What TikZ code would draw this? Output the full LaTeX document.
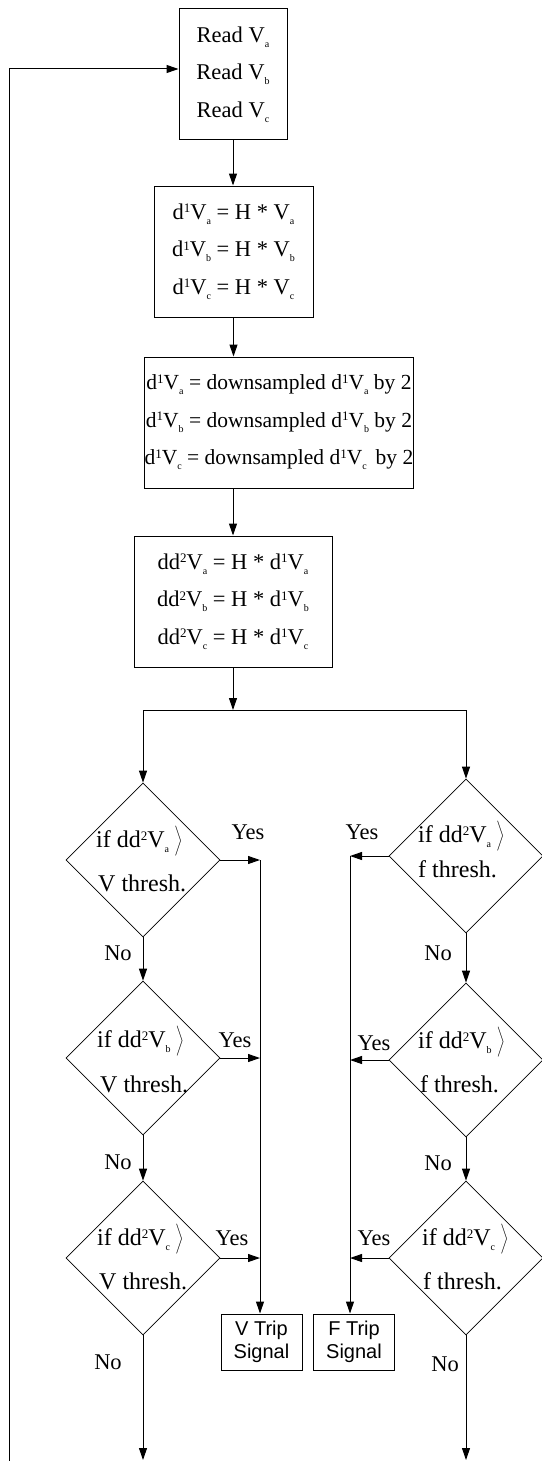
\documentclass[tikz,border=0pt]{standalone}
\usepackage{fontspec}
\setmainfont{Liberation Serif}
\setsansfont{Liberation Sans}
\usetikzlibrary{arrows.meta,shapes.geometric,calc}
\newcommand\sbs[1]{\raisebox{-5pt}{\fontsize{10}{10}\selectfont #1}}
\newcommand\sps[1]{\raisebox{6.5pt}{\fontsize{13}{13}\selectfont #1}}
\newcommand\gtb{\,$\left.\vcenter to 38pt{}\right\rangle$}
\begin{document}
\begin{tikzpicture}[x=1pt,y=-1pt,
  box/.style={draw,line width=1pt,inner sep=0pt,align=center,font=\fontsize{22.5}{37.5}\selectfont},
  dia/.style={draw,diamond,aspect=1,line width=0.7pt,minimum width=154pt,minimum height=154pt,inner sep=0pt},
  arr/.style={line width=1pt,-{Triangle[length=12pt,width=8pt]}},
  lab/.style={font=\fontsize{22.5}{26}\selectfont,inner sep=0pt},
  dtx/.style={font=\fontsize{24}{28}\selectfont,inner sep=0pt,anchor=base west},
  trip/.style={draw,line width=1pt,font=\sffamily\fontsize{20}{23}\selectfont,align=center,inner sep=0pt,minimum width=81pt,minimum height=56pt}]
\useasboundingbox (0,0) rectangle (541,1461);

% process boxes
\node[box,minimum width=108pt,minimum height=131pt] (read) at (233,74.5)
  {Read V\sbs{a}\\Read V\sbs{b}\\Read V\sbs{c}};
\node[box,minimum width=159pt,minimum height=131pt] (conv) at (233.5,251.5)
  {d\sps{1}V\sbs{a} = H * V\sbs{a}\\d\sps{1}V\sbs{b} = H * V\sbs{b}\\d\sps{1}V\sbs{c} = H * V\sbs{c}};
\node[box,minimum width=268pt,minimum height=131pt,font=\fontsize{21.5}{37.5}\selectfont] (down) at (279,422.5)
  {d\sps{1}V\sbs{a} = downsampled d\sps{1}V\sbs{a} by 2\\d\sps{1}V\sbs{b} = downsampled d\sps{1}V\sbs{b} by 2\\d\sps{1}V\sbs{c} = downsampled d\sps{1}V\sbs{c}\, by 2};
\node[box,minimum width=198pt,minimum height=131pt] (dd) at (233,601.5)
  {dd\sps{2}V\sbs{a} = H * d\sps{1}V\sbs{a}\\dd\sps{2}V\sbs{b} = H * d\sps{1}V\sbs{b}\\dd\sps{2}V\sbs{c} = H * d\sps{1}V\sbs{c}};

% decision diamonds
\node[dia] (d1) at (143,860) {};
\node[dia] (d2) at (143,1058) {};
\node[dia] (d3) at (143,1258) {};
\node[dia] (e1) at (466,856) {};
\node[dia] (e2) at (466,1060) {};
\node[dia] (e3) at (466,1258) {};

\node[dtx] (d1a) at (96,847) {if dd\sps{2}V\sbs{a}\gtb};
\node[dtx] (d1b) at (98,891) {V thresh.};
\node[dtx] (d2a) at (97,1047) {if dd\sps{2}V\sbs{b}\gtb};
\node[dtx] (d2b) at (100,1092) {V thresh.};
\node[dtx] (d3a) at (97,1245) {if dd\sps{2}V\sbs{c}\gtb};
\node[dtx] (d3b) at (99,1289) {V thresh.};
\node[dtx] (e1a) at (418,842) {if dd\sps{2}V\sbs{a}\gtb};
\node[dtx] (e1b) at (418,877) {f thresh.};
\node[dtx] (e2a) at (418,1048) {if dd\sps{2}V\sbs{b}\gtb};
\node[dtx] (e2b) at (420,1092) {f thresh.};
\node[dtx] (e3a) at (422,1245) {if dd\sps{2}V\sbs{c}\gtb};
\node[dtx] (e3b) at (423,1289) {f thresh.};

% trip boxes
\node[trip] (vtrip) at (261.5,1342) {V Trip\\Signal};
\node[trip] (ftrip) at (354,1342) {F Trip\\Signal};

% coordinates
\coordinate (split) at (233,710);
\coordinate (vl) at (260,0);
\coordinate (fl) at (350,0);
\coordinate (lend) at (143,1460);
\coordinate (rend) at (466,1460);
\coordinate (loop) at (9,1461);

% main chain
\draw[arr] (read.south) -- (read.south |- conv.north);
\draw[arr] (conv.south) -- (conv.south |- down.north);
\draw[arr] (dd.north |- down.south) -- (dd.north);
\draw[arr] (dd.south) -- (split);
\draw[arr] (split) -| (d1.north);
\draw[arr] (split) -| (e1.north);

% No branches
\draw[arr] (d1.south) -- (d2.north);
\draw[arr] (d2.south) -- (d3.north);
\draw[arr] (d3.south) -- (lend);
\draw[arr] (e1.south) -- (e2.north);
\draw[arr] (e2.south) -- (e3.north);
\draw[arr] (e3.south) -- (rend);

% Yes branches
\draw[arr] (d1.east) -- (d1.east -| vl);
\draw[arr] (d2.east) -- (d2.east -| vl);
\draw[arr] (d3.east) -- (d3.east -| vl);
\draw[arr] (d1.east -| vl) -- (vl |- vtrip.north);
\draw[arr] (e1.west) -- (e1.west -| fl);
\draw[arr] (e2.west) -- (e2.west -| fl);
\draw[arr] (e3.west) -- (e3.west -| fl);
\draw[arr] (e1.west -| fl) -- (fl |- ftrip.north);

% feedback loop
\draw[arr] (loop) |- ([yshift=5.5pt]read.west);

% labels
\node[lab] (y1) at (248,832) {Yes};
\node[lab] (y2) at (235,1040) {Yes};
\node[lab] (y3) at (232,1238) {Yes};
\node[lab] (y4) at (362,832) {Yes};
\node[lab] (y5) at (374,1043) {Yes};
\node[lab] (y6) at (374,1238) {Yes};
\node[lab] (n1) at (118,953) {No};
\node[lab] (n2) at (118,1162) {No};
\node[lab] (n3) at (108,1362) {No};
\node[lab] (n4) at (438,953) {No};
\node[lab] (n5) at (438,1163) {No};
\node[lab] (n6) at (445,1364) {No};
\end{tikzpicture}
\end{document}
